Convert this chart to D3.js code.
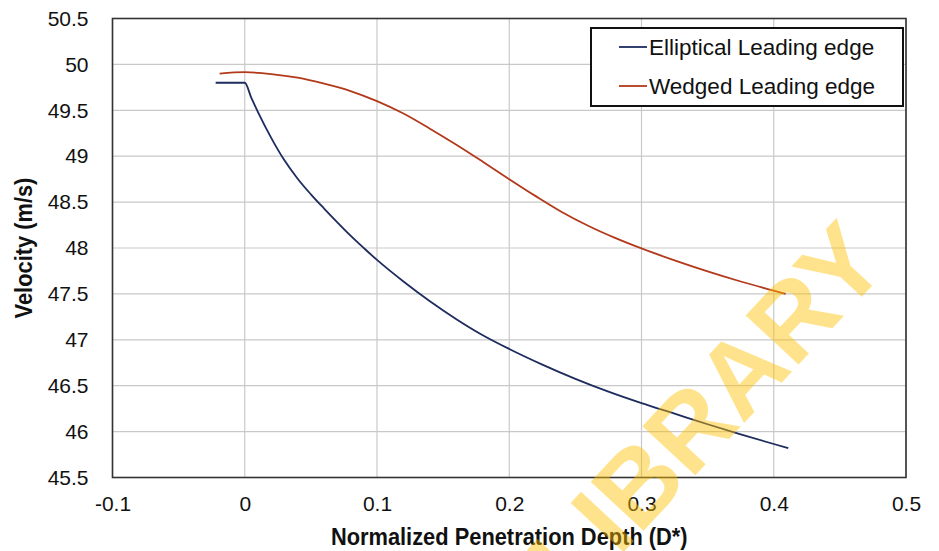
<!DOCTYPE html>
<html>
<head>
<meta charset="utf-8">
<script src="https://cdn.jsdelivr.net/npm/d3@7"></script>
<style>
  html, body { margin: 0; padding: 0; background: #fff; }
  svg { display: block; }
  text { font-family: "Liberation Sans", Arial, sans-serif; }
</style>
</head>
<body>
<svg id="chart" width="939" height="551"></svg>
<script>
// Velocity vs normalized penetration depth for two leading-edge shapes
const xTicks = [-0.1, 0, 0.1, 0.2, 0.3, 0.4, 0.5];
const yTicks = [45.5, 46, 46.5, 47, 47.5, 48, 48.5, 49, 49.5, 50, 50.5];

const seriesNames = ["Elliptical Leading edge", "Wedged Leading edge"];
const seriesColors = ["#1d2b5e", "#b2391a"];

// Elliptical leading edge: D* and velocity (m/s)
const ellipticalX = [-0.022, 0, 0.005, 0.01, 0.02, 0.03, 0.04, 0.05, 0.06, 0.07, 0.08, 0.09, 0.1, 0.12, 0.14, 0.16, 0.18, 0.2, 0.225, 0.25, 0.275, 0.3, 0.325, 0.35, 0.375, 0.4, 0.411];
const ellipticalV = [49.80, 49.80, 49.635, 49.48, 49.20, 48.955, 48.755, 48.585, 48.43, 48.28, 48.135, 48.00, 47.87, 47.635, 47.42, 47.225, 47.05, 46.90, 46.73, 46.575, 46.435, 46.31, 46.195, 46.08, 45.97, 45.865, 45.82];

// Wedged leading edge: D* and velocity (m/s)
const wedgedX = [-0.019, 0, 0.02, 0.04, 0.06, 0.08, 0.1, 0.12, 0.14, 0.16, 0.18, 0.2, 0.22, 0.24, 0.26, 0.28, 0.3, 0.325, 0.35, 0.375, 0.4, 0.409];
const wedgedV = [49.90, 49.915, 49.895, 49.855, 49.79, 49.71, 49.60, 49.465, 49.30, 49.125, 48.94, 48.75, 48.565, 48.39, 48.24, 48.11, 47.995, 47.865, 47.745, 47.635, 47.535, 47.50];

const svg = d3.select("#chart");
const plot = { left: 112.5, right: 906, top: 18.5, bottom: 477.5 };

const x = d3.scaleLinear().domain([-0.1, 0.5]).range([plot.left, plot.right]);
const y = d3.scaleLinear().domain([45.5, 50.5]).range([plot.bottom, plot.top]);

// gridlines
const grid = svg.append("g");
grid.selectAll("line.v").data(xTicks).join("line")
  .attr("x1", d => x(d)).attr("x2", d => x(d))
  .attr("y1", plot.top).attr("y2", plot.bottom)
  .attr("stroke", "#c9c9c9").attr("stroke-width", 1.2);
grid.selectAll("line.h").data(yTicks).join("line")
  .attr("x1", plot.left).attr("x2", plot.right)
  .attr("y1", d => y(d)).attr("y2", d => y(d))
  .attr("stroke", "#c9c9c9").attr("stroke-width", 1.2);

// axes (labels only; frame drawn separately)
const fmt = d => String(d);
const xAxis = svg.append("g")
  .attr("transform", `translate(0,${plot.bottom})`)
  .call(d3.axisBottom(x).tickValues(xTicks).tickSize(0).tickPadding(19).tickFormat(fmt));
const yAxis = svg.append("g")
  .attr("transform", `translate(${plot.left},0)`)
  .call(d3.axisLeft(y).tickValues(yTicks).tickSize(0).tickPadding(24).tickFormat(fmt));
[xAxis, yAxis].forEach(a => {
  a.select(".domain").remove();
  a.selectAll("text").attr("font-size", 21).attr("fill", "#111")
    .attr("font-family", "'Liberation Sans', Arial, sans-serif");
});

// plot frame
svg.append("rect")
  .attr("x", plot.left).attr("y", plot.top)
  .attr("width", plot.right - plot.left).attr("height", plot.bottom - plot.top)
  .attr("fill", "none").attr("stroke", "#333").attr("stroke-width", 1.6);

// series lines
const line = d3.line().x(d => x(d[0])).y(d => y(d[1])).curve(d3.curveMonotoneX);
const series = [
  d3.zip(ellipticalX, ellipticalV),
  d3.zip(wedgedX, wedgedV)
];
svg.append("g").selectAll("path").data(series).join("path")
  .attr("d", line)
  .attr("fill", "none")
  .attr("stroke", (d, i) => seriesColors[i])
  .attr("stroke-width", 1.8);

// legend
const legend = svg.append("g");
legend.append("rect")
  .attr("x", 591).attr("y", 28).attr("width", 312).attr("height", 78)
  .attr("fill", "#fff").attr("stroke", "#111").attr("stroke-width", 2);
const legY = [47, 86];
seriesNames.forEach((name, i) => {
  legend.append("line")
    .attr("x1", 619).attr("x2", 647).attr("y1", legY[i]).attr("y2", legY[i])
    .attr("stroke", seriesColors[i]).attr("stroke-width", 1.8);
  legend.append("text")
    .attr("x", 649).attr("y", legY[i]).attr("dy", "0.35em")
    .attr("font-size", 22.5).attr("fill", "#111").text(name);
});

// axis titles (condensed bold)
svg.append("text")
  .attr("transform", `translate(${(plot.left + plot.right) / 2},545) scale(0.95,1)`)
  .attr("text-anchor", "middle")
  .attr("font-weight", "bold").attr("font-size", 23).attr("fill", "#111")
  .text("Normalized Penetration Depth (D*)");
svg.append("text")
  .attr("transform", `translate(32,${(plot.top + plot.bottom) / 2}) rotate(-90) scale(0.95,1)`)
  .attr("text-anchor", "middle")
  .attr("font-weight", "bold").attr("font-size", 23).attr("fill", "#111")
  .text("Velocity (m/s)");

// watermark
svg.append("text")
  .attr("transform", "translate(706,410) rotate(-47)")
  .attr("text-anchor", "middle").attr("dy", "0.35em")
  .attr("font-weight", "bold").attr("font-size", 105)
  .attr("fill", "#ffc000").attr("fill-opacity", 0.45)
  .text("LIBRARY");
</script>
</body>
</html>
